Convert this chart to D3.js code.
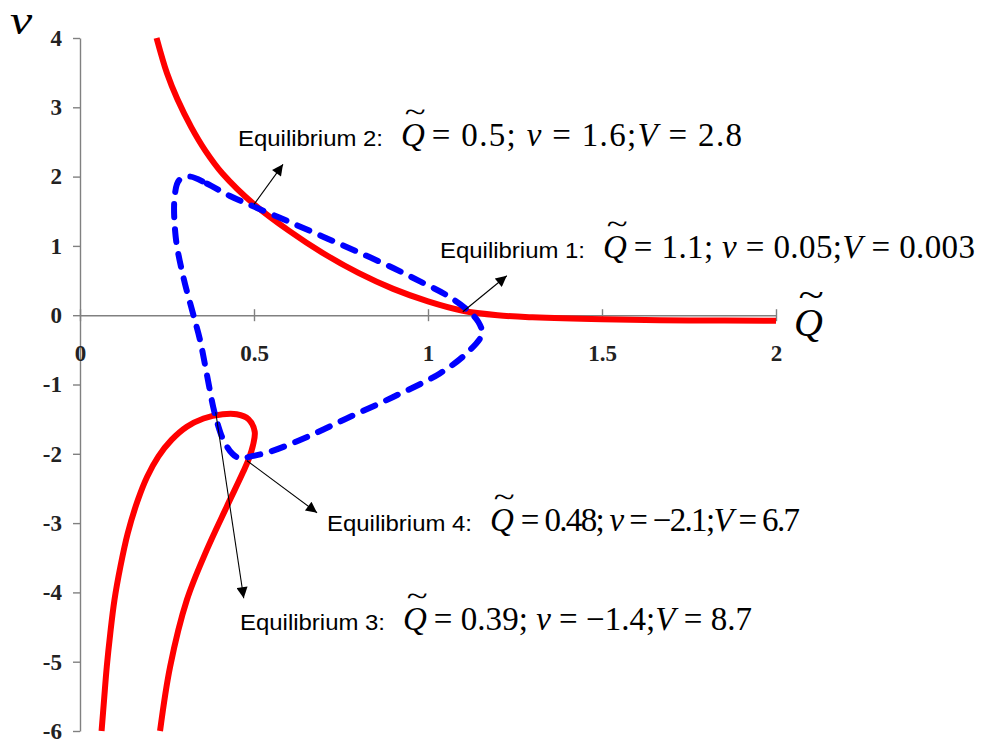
<!DOCTYPE html>
<html>
<head>
<meta charset="utf-8">
<script src="https://cdn.jsdelivr.net/npm/d3@7"></script>
<style>
  body { margin: 0; background: #fff; }
  svg { display: block; }
</style>
</head>
<body>
<svg id="chart" width="994" height="742"></svg>
<script>
// Axis ticks
const qTicks = [0, 0.5, 1, 1.5, 2];
const vTicks = [-6, -5, -4, -3, -2, -1, 0, 1, 2, 3, 4];

// Red curves (solid): [Q, v]
const redUpper = [
    [0.22, 4.0], [0.25, 3.49], [0.28, 3.115], [0.32, 2.71], [0.36, 2.375],
    [0.41, 2.04], [0.5, 1.6], [0.6, 1.22], [0.7, 0.89], [0.8, 0.61],
    [0.9, 0.38], [1.0, 0.2], [1.1, 0.065], [1.2, 0.0], [1.3, -0.03],
    [1.5, -0.06], [1.75, -0.075], [2.0, -0.08]
];
const redLower = [
    [0.062, -6.0], [0.069, -5.56], [0.077, -5.07], [0.087, -4.59], [0.099, -4.11],
    [0.116, -3.63], [0.137, -3.15], [0.166, -2.67], [0.193, -2.33], [0.225, -2.04],
    [0.263, -1.80], [0.307, -1.61], [0.355, -1.49], [0.41, -1.43], [0.45, -1.43],
    [0.484, -1.50], [0.502, -1.68], [0.497, -1.88], [0.486, -2.06], [0.469, -2.26],
    [0.421, -2.77], [0.364, -3.39], [0.307, -4.11], [0.259, -5.07], [0.23, -6.0]
];

// Blue closed loop (dashed): [Q, v]
const blueLoop = [
    [0.316, 2.0], [0.364, 1.90], [0.431, 1.72], [0.503, 1.56], [0.6, 1.35],
    [0.7, 1.13], [0.8, 0.91], [0.9, 0.68], [0.98, 0.48], [1.05, 0.30],
    [1.11, 0.09], [1.145, -0.1], [1.155, -0.27], [1.115, -0.53], [1.034, -0.84],
    [0.90, -1.18], [0.766, -1.49], [0.651, -1.76], [0.546, -1.97], [0.489, -2.04],
    [0.462, -2.07], [0.438, -2.0], [0.412, -1.8], [0.395, -1.56], [0.383, -1.33],
    [0.364, -0.84], [0.345, -0.36], [0.326, 0.0], [0.297, 0.55], [0.275, 1.13],
    [0.272, 1.71], [0.285, 1.95]
];

// Equilibria
const eqNames = ['Equilibrium 1:', 'Equilibrium 2:', 'Equilibrium 3:', 'Equilibrium 4:'];
const eqQ = [1.1, 0.5, 0.39, 0.48];
const eqV = [0.05, 1.6, -1.4, -2.1];
const eqQText = ['1.1', '0.5', '0.39', '0.48'];
const eqVText = ['0.05', '1.6', '\u22121.4', '\u22122.1'];
const eqBigVText = ['0.003', '2.8', '8.7', '6.7'];

// Label placement (pixels), right end of each formula, arrow tip offsets
const labelPos = [[440, 258], [238, 146], [240, 630], [327, 531]];
const mathEnd = [975, 742, 752, 800];
const arrowTip = [[44, -36], [29, -40], [28, 186], [70, 52]];

const svg = d3.select('#chart');

const x = d3.scaleLinear().domain([0, 2]).range([80, 776]);
const y = d3.scaleLinear().domain([-6, 4]).range([731, 38]);

const serif = '"Liberation Serif", "Times New Roman", serif';
const sans = '"Liberation Sans", Arial, sans-serif';

// Y axis
const yAxis = svg.append('g')
    .attr('transform', `translate(${x(0)},0)`)
    .call(d3.axisLeft(y).tickValues(vTicks).tickSizeInner(7).tickSizeOuter(0)
        .tickPadding(11).tickFormat(d => String(d)));

// X axis (ticks cross the line)
const xAxis = svg.append('g')
    .attr('transform', `translate(0,${y(0)})`)
    .call(d3.axisBottom(x).tickValues(qTicks).tickSizeInner(6).tickSizeOuter(0)
        .tickPadding(23).tickFormat(d => String(d)));
xAxis.selectAll('.tick line').attr('y1', -6).attr('y2', 6);

[yAxis, xAxis].forEach(a => {
    a.select('.domain').attr('stroke', '#808080').attr('stroke-width', 1.4);
    a.selectAll('.tick line').attr('stroke', '#808080').attr('stroke-width', 1.4);
    a.selectAll('.tick text')
        .attr('font-family', serif).attr('font-weight', 'bold')
        .attr('font-size', 23).attr('fill', '#222');
});

// Curves
const line = d3.line().x(d => x(d[0])).y(d => y(d[1])).curve(d3.curveCatmullRom.alpha(0.5));
const loop = d3.line().x(d => x(d[0])).y(d => y(d[1])).curve(d3.curveCatmullRomClosed.alpha(0.5));

svg.append('path').datum(redUpper).attr('d', line)
    .attr('fill', 'none').attr('stroke', '#ff0000').attr('stroke-width', 6);
svg.append('path').datum(redLower).attr('d', line)
    .attr('fill', 'none').attr('stroke', '#ff0000').attr('stroke-width', 6);
svg.append('path').datum(blueLoop).attr('d', loop)
    .attr('fill', 'none').attr('stroke', '#0000ff').attr('stroke-width', 6)
    .attr('stroke-dasharray', '13,12').attr('stroke-linecap', 'round');

// Arrow marker
svg.append('defs').append('marker')
    .attr('id', 'head')
    .attr('viewBox', '0 0 10 10')
    .attr('refX', 10).attr('refY', 5)
    .attr('markerUnits', 'userSpaceOnUse')
    .attr('markerWidth', 13).attr('markerHeight', 11)
    .attr('orient', 'auto')
  .append('path')
    .attr('d', 'M0,0 L10,5 L0,10 Z')
    .attr('fill', '#000');

// Draws a Q with a tilde on top, returns its width
function tildeQ(g, px, py, size) {
    const q = g.append('text')
        .attr('x', px).attr('y', py)
        .attr('font-family', serif).attr('font-style', 'italic')
        .attr('font-size', size).text('Q');
    const w = q.node().getComputedTextLength();
    const cx = px + w / 2 + size * 0.07;
    g.append('text')
        .attr('x', cx).attr('y', py - size * 0.72)
        .attr('text-anchor', 'middle')
        .attr('font-family', serif).attr('font-size', size * 0.9)
        .attr('transform', `translate(${cx},0) scale(1.3,1) translate(${-cx},0)`)
        .text('~');
    return w;
}

// Equilibrium labels and arrows
eqNames.forEach((name, i) => {
    const sx = x(eqQ[i]), sy = y(eqV[i]);
    svg.append('line')
        .attr('x1', sx).attr('y1', sy)
        .attr('x2', sx + arrowTip[i][0]).attr('y2', sy + arrowTip[i][1])
        .attr('stroke', '#000').attr('stroke-width', 1.1)
        .attr('marker-end', 'url(#head)');

    const [lx, ly] = labelPos[i];
    const g = svg.append('g');
    g.append('text')
        .attr('x', lx).attr('y', ly)
        .attr('font-family', sans).attr('font-size', 22)
        .attr('textLength', 145).attr('lengthAdjust', 'spacingAndGlyphs')
        .text(name);

    const mx = lx + 163;
    const qw = tildeQ(g, mx, ly, 33);
    const restX = mx + qw + 7;
    const t = g.append('text')
        .attr('x', restX).attr('y', ly)
        .attr('font-family', serif).attr('font-size', 33)
        .attr('textLength', mathEnd[i] - restX).attr('lengthAdjust', 'spacing')
        .attr('xml:space', 'preserve');
    t.append('tspan').text(`= ${eqQText[i]}; `);
    t.append('tspan').attr('font-style', 'italic').text('v');
    t.append('tspan').text(` = ${eqVText[i]};`);
    t.append('tspan').attr('font-style', 'italic').text('V');
    t.append('tspan').text(` = ${eqBigVText[i]}`);
});

// Axis titles
svg.append('text')
    .attr('x', 10).attr('y', 34)
    .attr('font-family', serif).attr('font-style', 'italic')
    .attr('font-size', 40)
    .attr('transform', 'translate(10,0) scale(1.25,1) translate(-10,0)')
    .text('v');
tildeQ(svg, 794, 336, 40);
</script>
</body>
</html>
